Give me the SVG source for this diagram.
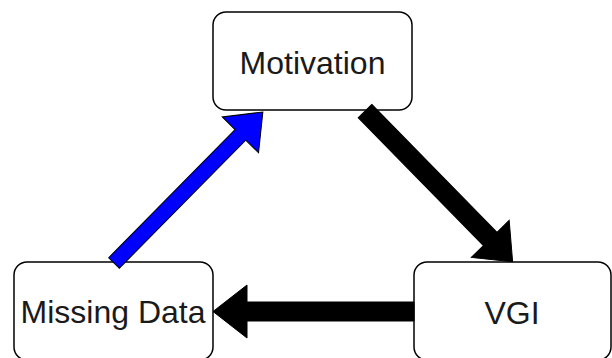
<svg xmlns="http://www.w3.org/2000/svg" width="612" height="358" viewBox="0 0 612 358">
  <style>
    .box { fill: #ffffff; stroke: #000000; stroke-width: 1.5; }
    .lbl { font-family: "Liberation Sans", Arial, sans-serif; font-size: 32px; fill: #1a1a1a; text-anchor: middle; }
    .blk { fill: #000000; stroke: #000000; stroke-width: 1; stroke-linejoin: miter; }
    .blu { fill: #0000ff; stroke: #000000; stroke-width: 1; stroke-linejoin: miter; }
  </style>
  <rect width="612" height="358" fill="#ffffff"/>
  <g id="nodes">
    <g id="node-motivation">
      <rect class="box" x="213" y="12" width="199" height="98" rx="13" ry="13"/>
      <text class="lbl" x="312.5" y="74">Motivation</text>
    </g>
    <g id="node-missing-data">
      <rect class="box" x="14" y="262" width="199" height="98" rx="13" ry="13"/>
      <text class="lbl" x="113" y="323">Missing Data</text>
    </g>
    <g id="node-vgi">
      <rect class="box" x="414" y="262" width="197" height="98" rx="13" ry="13"/>
      <text class="lbl" x="512" y="324">VGI</text>
    </g>
  </g>
  <g id="connectors">
    <!-- Missing Data -> Motivation (blue) -->
    <g transform="translate(114,263) rotate(-45.4)">
      <polygon class="blu" points="0,-7.5 180,-7.5 180,-25.5 212,0 180,25.5 180,7.5 0,7.5"/>
    </g>
    <!-- Motivation -> VGI -->
    <g transform="translate(365,111) rotate(45.6)">
      <polygon class="blk" points="0,-9.5 179,-9.5 179,-26.5 211,0 179,26.5 179,9.5 0,9.5"/>
    </g>
    <!-- VGI -> Missing Data -->
    <polygon class="blk" points="414,302 247,302 247,285 213,311.5 247,338 247,321 414,321"/>
  </g>
</svg>
